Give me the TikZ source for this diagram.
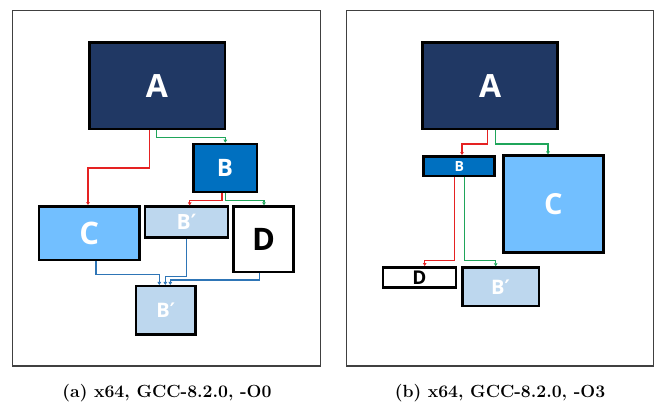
\documentclass[tikz,border=0pt]{standalone}
\usepackage{fontspec}
\newfontfamily\lab{Open Sans}
\newfontfamily\primefont{DejaVu Sans}
\usetikzlibrary{arrows.meta}
\definecolor{cA}{HTML}{203864}
\definecolor{cB}{HTML}{0070C0}
\definecolor{cC}{HTML}{72BFFF}
\definecolor{cBp}{HTML}{BDD7EE}
\definecolor{fr}{HTML}{404040}
\definecolor{lr}{HTML}{E52222}
\definecolor{lg}{HTML}{1FA55A}
\definecolor{lb}{HTML}{2E75B6}
\tikzset{
  blk/.style={draw=black, line width=2.5pt, inner sep=0pt, text=white},
  frm/.style={draw=fr, line width=1.1pt},
  conn/.style={line width=1.1pt, -{Triangle[length=3pt,width=3.5pt]}},
  captxt/.style={font=\bfseries\fontsize{17.6}{19}\selectfont, inner sep=0pt}
}
\newcommand{\lf}[1]{\lab\bfseries\fontsize{#1}{#1}\selectfont}
\newcommand{\bpr}{B{\primefont\bfseries ′}}
\begin{document}
\begin{tikzpicture}[x=1pt,y=-1pt]
\useasboundingbox (0,0) rectangle (654,406);
% frames
\draw[frm] (12.3,10.3) rectangle (320.7,366);
\draw[frm] (346.3,10.3) rectangle (653.2,366);
% panel (a)
\node[blk, fill=cA, minimum width=135.5pt, minimum height=86.8pt, font=\lf{32}] (aA) at (157,85.7) {A};
\node[blk, fill=cB, minimum width=63.5pt, minimum height=48pt, font=\lf{24}] (aB) at (225,168) {B};
\node[blk, fill=cC, minimum width=100.8pt, minimum height=53.8pt, font=\lf{31}] (aC) at (89.3,233.2) {C};
\node[blk, fill=cBp, minimum width=83pt, minimum height=31pt, font=\lf{21}] (aBp) at (186.5,222.2) {\bpr};
\node[blk, fill=white, text=black, minimum width=60pt, minimum height=65.5pt, font=\lf{31}] (aD) at (263.7,239.3) {D};
\node[blk, fill=cBp, minimum width=59.8pt, minimum height=48.5pt, font=\lf{20}] (aBq) at (165.8,310.5) {\bpr};
\draw[conn, lr] ([xshift=-7.3pt]aA.south) -- ++(0,37.7) -| ([xshift=-1.3pt]aC.north);
\draw[conn, lg] ([xshift=-0.3pt]aA.south) -- ++(0,7.3) -| ([xshift=0.3pt]aB.north);
\draw[conn, lr] ([xshift=-3pt]aB.south) -- ++(0,7.3) -| ([xshift=3.2pt]aBp.north);
\draw[conn, lg] ([xshift=0.3pt]aB.south) -- ++(0,7.3) -| ([xshift=0.3pt]aD.north);
\draw[conn, lb] ([xshift=6.7pt]aC.south) -- ++(0,13) -| ([xshift=-6.5pt]aBq.north);
\draw[conn, lb] ([xshift=-0.2pt]aBp.south) -- ++(0,37.2) -| ([xshift=-0.5pt]aBq.north);
\draw[conn, lb] ([xshift=-4.4pt]aD.south) -- ++(0,6.7) -| ([xshift=4.5pt]aBq.north);
% panel (b)
\node[blk, fill=cA, minimum width=135pt, minimum height=86.8pt, font=\lf{32}] (bA) at (490.2,85.7) {A};
\node[blk, fill=cB, minimum width=71pt, minimum height=19.8pt, font=\lf{14}] (bB) at (459.2,166.2) {B};
\node[blk, fill=cC, minimum width=100pt, minimum height=97pt, font=\lf{29}] (bC) at (553.3,204.2) {C};
\node[blk, fill=white, text=black, minimum width=73pt, minimum height=20pt, font=\lf{19}] (bD) at (419.5,277.3) {D};
\node[blk, fill=cBp, minimum width=76.5pt, minimum height=38.5pt, font=\lf{20}] (bBp) at (500.5,286.8) {\bpr};
\draw[conn, lr] ([xshift=-2.9pt]bA.south) -- ++(0,13.7) -| ([xshift=2.8pt]bB.north);
\draw[conn, lg] ([xshift=5.5pt]bA.south) -- ++(0,13.7) -| ([xshift=-5.3pt]bC.north);
\draw[conn, lr] ([xshift=-4.9pt]bB.south) -- ++(0,83) -| ([xshift=5.2pt]bD.north);
\draw[conn, lg] ([xshift=5.5pt]bB.south) -- ++(0,83) -| ([xshift=-4.8pt]bBp.north);
% captions
\node[captxt] (capa) at (167,393) {(a) x64, GCC-8.2.0, -O0};
\node[captxt] (capb) at (500,393) {(b) x64, GCC-8.2.0, -O3};
\end{tikzpicture}
\end{document}
